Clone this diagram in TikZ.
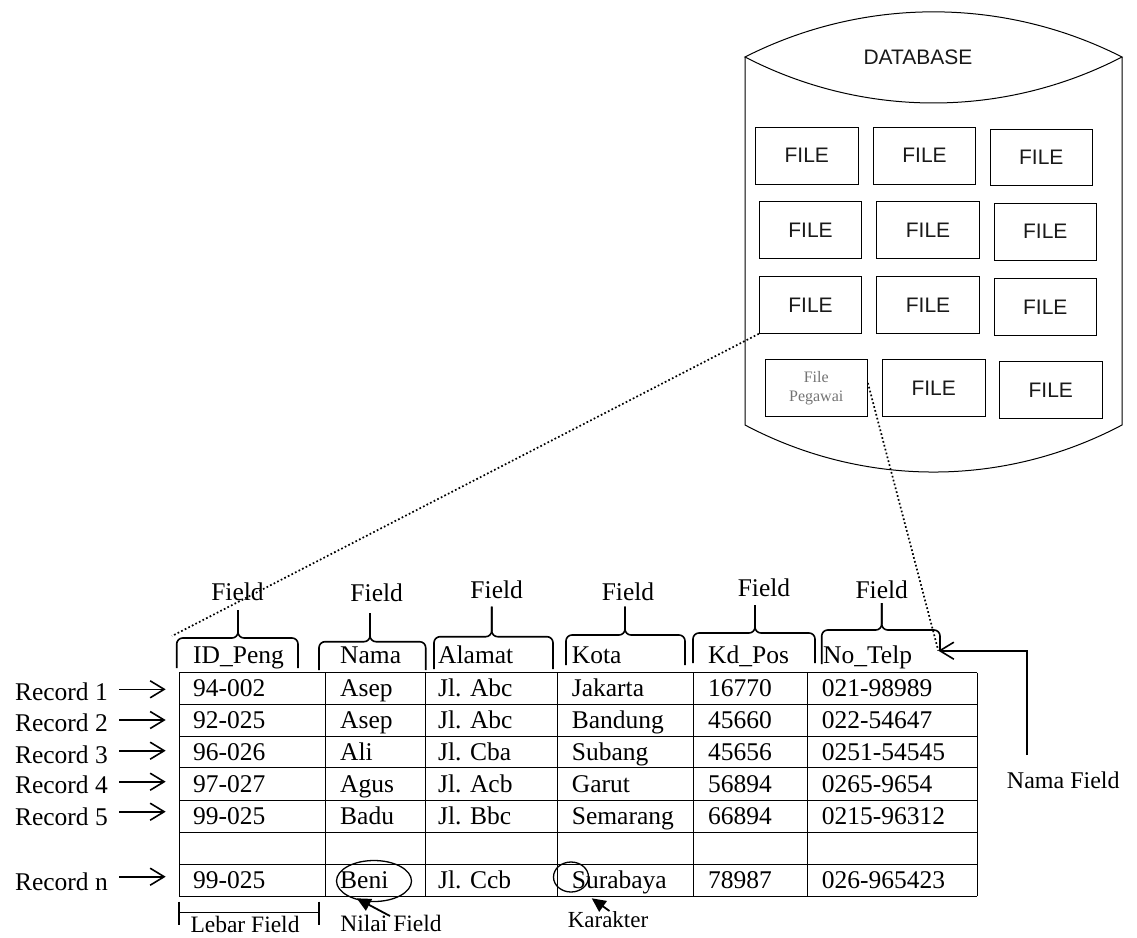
\documentclass[tikz,border=0pt]{standalone}
\usepackage{fontspec}
\setmainfont{Liberation Serif}
\newfontfamily\dbsans{Liberation Sans}
\usetikzlibrary{arrows.meta,shapes.geometric}
\newcommand\fieldbrace[6]{%
  \draw[bracepath] (#1,#6) -- (#1,#4) -- (#3,#4) -- (#3,#5);
  \draw[bracepath] (#2,#6) -- (#2,#4) -- (#3,#4) -- (#3,#5);}
\begin{document}
\begin{tikzpicture}[x=1pt,y=-1pt,
  txt/.style={inner sep=0pt, font=\fontsize{25.5}{30}\selectfont},
  small/.style={inner sep=0pt, font=\fontsize{23.5}{28}\selectfont},
  filebox/.style={draw, line width=0.9pt, inner sep=0pt, minimum width=102.5pt, minimum height=56.7pt, font=\dbsans\fontsize{21}{25}\selectfont, text=black!90},
  bracepath/.style={line width=1.6pt, rounded corners=6pt},
  recarrow/.style={line width=1.6pt, -{Straight Barb[length=14pt,width=17pt]}},
  fillarrow/.style={line width=1.8pt, -{Triangle[length=14pt,width=13pt]}},
  dotline/.style={line width=1.7pt, dash pattern=on 1.7pt off 2.3pt},
  gridline/.style={line width=1pt},
  ringmark/.style={draw, ellipse, line width=1.3pt, inner sep=0pt}
]
\useasboundingbox (0,0) rectangle (1137,937);

% ---------- database ----------
\draw[line width=1pt] (745,57) .. controls (863.6,-3.2) and (1003.4,-3.2) .. (1122,57)
   .. controls (1003.4,118.3) and (863.6,118.3) .. (745,57) -- cycle;
\draw[line width=1pt] (745,57) -- (745,425) .. controls (863.6,487.7) and (1003.4,487.7) .. (1122,425) -- (1122,57);
\node[inner sep=0pt, font=\dbsans\fontsize{21}{25}\selectfont, text=black!90] (db) at (918,57.5) {DATABASE};

\node[filebox] (b11) at (806.8,155.7) {FILE};
\node[filebox] (b12) at (924.5,155.7) {FILE};
\node[filebox] (b13) at (1041.3,157.3) {FILE};
\node[filebox] (b21) at (810.5,230) {FILE};
\node[filebox] (b22) at (928,230) {FILE};
\node[filebox] (b23) at (1045.3,231.7) {FILE};
\node[filebox] (b31) at (810.5,305) {FILE};
\node[filebox] (b32) at (928,305) {FILE};
\node[filebox] (b33) at (1045.3,307) {FILE};
\node[filebox, font=\fontsize{16}{18.7}\selectfont, text=black!55, align=center] (fp) at (816.2,388) {File\\Pegawai};
\node[filebox] (b42) at (933.7,388) {FILE};
\node[filebox] (b43) at (1050.8,390) {FILE};

% ---------- table grid ----------
\foreach \x in {179,325,425,557,693,807,977} \draw[gridline] (\x,672.7) -- (\x,896);
\foreach \y in {672.7,704.3,736,767.7,800,832.3,864,896} \draw[gridline] (179,\y) -- (977,\y);

% headers
\node[txt,anchor=base west] (h1) at (193,663.5) {ID\_Peng};
\node[txt,anchor=base west] (h2) at (340,663.5) {Nama};
\node[txt,anchor=base west] (h3) at (438,663.5) {Alamat};
\node[txt,anchor=base west] (h4) at (571.7,663.5) {Kota};
\node[txt,anchor=base west] (h5) at (708,663.5) {Kd\_Pos};
\node[txt,anchor=base west] (h6) at (823,663.5) {No\_Telp};

% cells
\foreach \r/\y/\a/\b/\c/\d/\e/\f in {
  1/696.7/94-002/Asep/Jl. Abc/Jakarta/16770/021-98989,
  2/728.4/92-025/Asep/Jl. Abc/Bandung/45660/022-54647,
  3/760.1/96-026/Ali/Jl. Cba/Subang/45656/0251-54545,
  4/792.4/97-027/Agus/Jl. Acb/Garut/56894/0265-9654,
  5/824.7/99-025/Badu/Jl. Bbc/Semarang/66894/0215-96312,
  7/888.4/99-025/Beni/Jl. Ccb/Surabaya/78987/026-965423}{
  \node[txt,anchor=base west] (c\r-1) at (193,\y) {\a};
  \node[txt,anchor=base west] (c\r-2) at (340,\y) {\b};
  \node[txt,anchor=base west] (c\r-3) at (438,\y) {\c};
  \node[txt,anchor=base west] (c\r-4) at (571.7,\y) {\d};
  \node[txt,anchor=base west] (c\r-5) at (708,\y) {\e};
  \node[txt,anchor=base west] (c\r-6) at (821.7,\y) {\f};
}

% record labels and arrows
\foreach \n/\lbl/\by/\ay in {1/Record 1/700/689.3, 2/Record 2/731.7/720, 3/Record 3/763.3/750.7,
    4/Record 4/793.3/781.7, 5/Record 5/825/811.7, n/Record n/890/876.7}{
  \node[txt,anchor=base east] (rec\n) at (108,\by) {\lbl};
  \coordinate (ra\n) at (119,\ay);
  \coordinate (rb\n) at (165.7,\ay);
  \draw[recarrow] (ra\n) -- (rb\n);
}

% braces and Field labels
\fieldbrace{176.7}{298}{238}{638}{610}{668}
\fieldbrace{319}{425.7}{370}{641.7}{613}{670}
\fieldbrace{434}{553}{491.7}{636.7}{606.7}{669}
\fieldbrace{566}{685}{625}{635}{606.7}{665}
\fieldbrace{693}{815}{755}{633}{605}{663}
\draw[bracepath] (821.7,664) -- (821.7,630) -- (881.7,630) -- (881.7,603);
\draw[bracepath] (940,650) -- (940,630) -- (881.7,630) -- (881.7,603);

\node[txt,anchor=base] (f1) at (237.5,600) {Field};
\node[txt,anchor=base] (f2) at (376.7,601) {Field};
\node[txt,anchor=base] (f3) at (496.7,598) {Field};
\node[txt,anchor=base] (f4) at (628,600) {Field};
\node[txt,anchor=base] (f5) at (764,596) {Field};
\node[txt,anchor=base] (f6) at (881.7,598) {Field};

% Nama Field
\node[inner sep=0pt, font=\fontsize{24}{28}\selectfont, anchor=base] (nf) at (1063.3,788) {Nama Field};
\coordinate (nfA) at (1026.7,755);
\coordinate (nfB) at (1026.7,650.7);
\coordinate (nfTip) at (938.3,650.7);
\draw[recarrow] (nfA) -- (nfB) -- (nfTip);

% dotted connectors
\coordinate (dotend) at (172,636);
\draw[dotline] (b31.south west) -- (dotend);
\draw[dotline] ([yshift=5pt]fp.east) -- (nfTip);

% Lebar Field
\draw[line width=1.4pt] (179,912.3) -- (319,912.3);
\draw[line width=1.4pt] (179,901.7) -- (179,925);
\draw[line width=1.4pt] (319,901.7) -- (319,925);
\node[small,anchor=base] (lf) at (245,932.5) {Lebar Field};

% Nilai Field
\node[ringmark, minimum width=75pt, minimum height=41pt] (beni) at (374,881) {};
\node[small,anchor=base] (nv) at (391,931) {Nilai Field};
\coordinate (nvA) at (390,916);
\coordinate (nvB) at (356.7,898.3);
\draw[fillarrow] (nvA) -- (nvB);

% Karakter
\node[ringmark, minimum width=35pt, minimum height=30pt] (kr) at (571,877) {};
\node[inner sep=0pt, font=\fontsize{23}{27}\selectfont, anchor=base] (kar) at (608,927) {Karakter};
\coordinate (kA) at (609.5,911);
\coordinate (kB) at (591.7,898.3);
\draw[fillarrow] (kA) -- (kB);
\end{tikzpicture}
\end{document}
